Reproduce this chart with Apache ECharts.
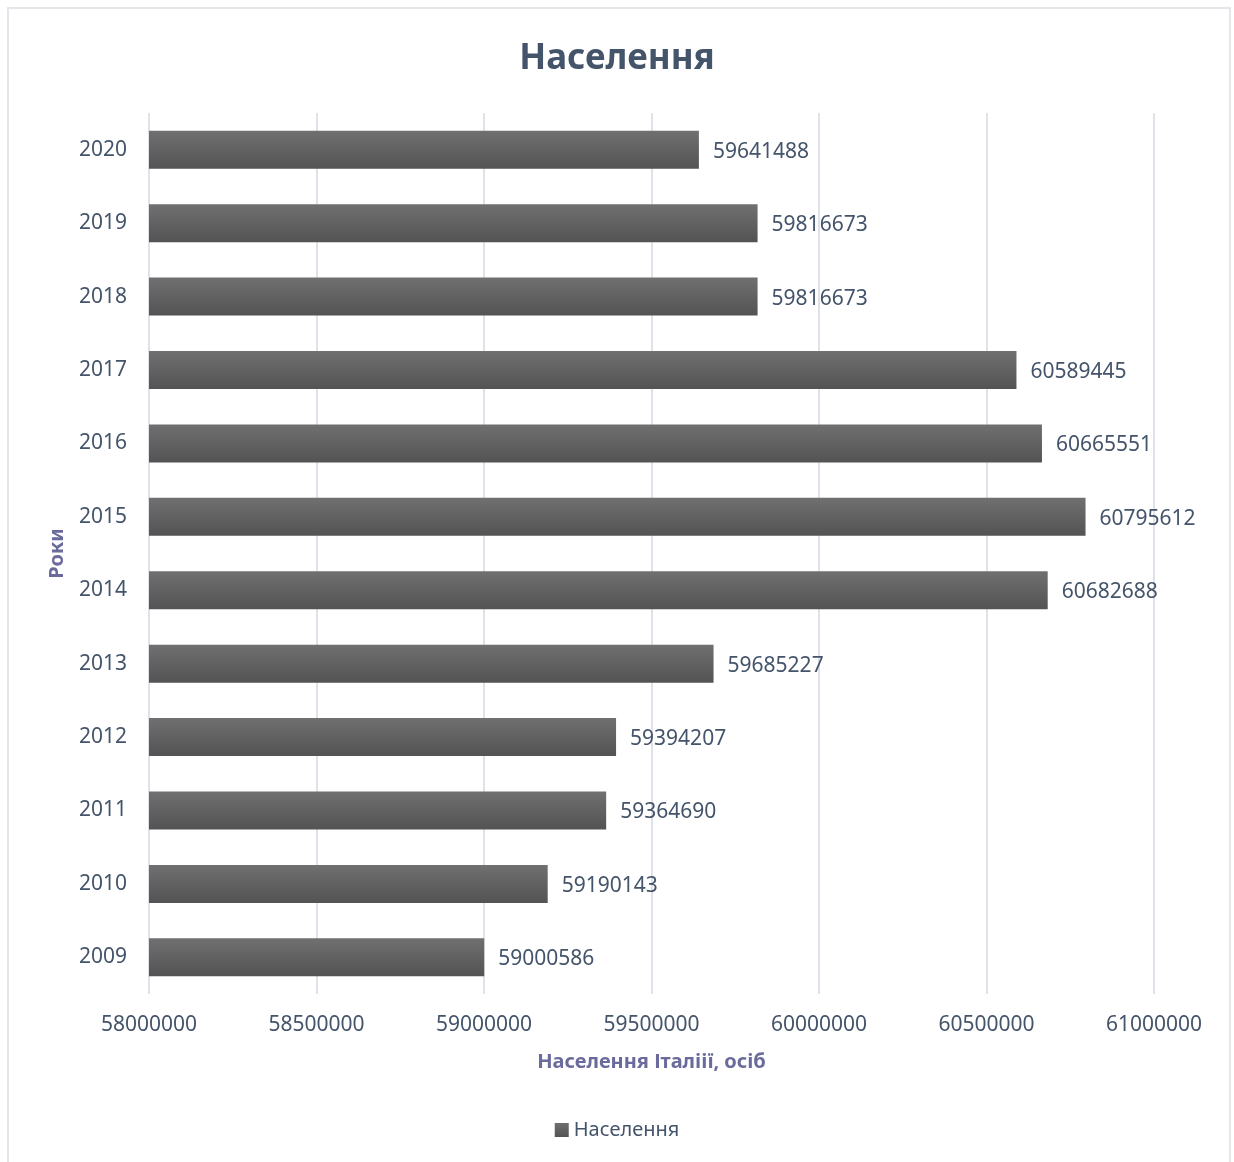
<!DOCTYPE html>
<html>
<head>
<meta charset="utf-8">
<script src="https://cdn.jsdelivr.net/npm/echarts@6/dist/echarts.min.js"></script>
<style>
  html, body { margin: 0; padding: 0; background: #ffffff; }
  #frame { position: absolute; left: 7px; top: 7px; width: 1224px; height: 1160px; border: 2px solid #e3e6ea; border-bottom: none; box-sizing: border-box; }
  #chart { position: absolute; left: 0; top: 0; width: 1234px; height: 1162px; }
</style>
</head>
<body>
<div id="frame"></div>
<div id="chart"></div>
<script>
// Population of Italy by year
const years = ['2009', '2010', '2011', '2012', '2013', '2014', '2015', '2016', '2017', '2018', '2019', '2020'];
const population = [59000586, 59190143, 59364690, 59394207, 59685227, 60682688, 60795612, 60665551, 60589445, 59816673, 59816673, 59641488];
const xTicks = [58000000, 58500000, 59000000, 59500000, 60000000, 60500000, 61000000];

const textColor = '#44546a';
const axisNameColor = '#6a6a9c';
const font = '"Noto Sans", "Open Sans", sans-serif';

const barFill = new echarts.graphic.LinearGradient(0, 0, 0, 1, [
  { offset: 0, color: '#707070' },
  { offset: 1, color: '#535353' }
]);

const chart = echarts.init(document.getElementById('chart'), null, { renderer: 'canvas' });
chart.setOption({
  backgroundColor: 'transparent',
  animation: false,
  textStyle: { fontFamily: font },
  title: {
    text: 'Населення',
    left: 'center',
    top: 37,
    textStyle: { fontFamily: font, fontSize: 35, fontWeight: 'bold', color: textColor }
  },
  legend: {
    bottom: 17,
    left: 'center',
    itemWidth: 14,
    itemHeight: 14,
    itemGap: 5,
    icon: 'rect',
    textStyle: { fontFamily: font, fontSize: 20, color: textColor },
    data: [{ name: 'Населення', itemStyle: { color: barFill } }]
  },
  grid: { left: 149, right: 80, top: 113, bottom: 168, containLabel: false },
  xAxis: {
    type: 'value',
    min: xTicks[0],
    max: xTicks[xTicks.length - 1],
    interval: xTicks[1] - xTicks[0],
    name: 'Населення Італіії, осіб',
    nameLocation: 'middle',
    nameGap: 58,
    nameTextStyle: { fontFamily: font, fontSize: 20, fontWeight: 'bold', color: axisNameColor },
    axisLine: { show: false },
    axisTick: { show: false },
    axisLabel: { fontFamily: font, fontSize: 21, color: textColor, margin: 21, formatter: v => String(v) },
    splitLine: { show: true, lineStyle: { color: '#dfe2e8', width: 2 } }
  },
  yAxis: {
    type: 'category',
    data: years,
    name: 'Роки',
    nameLocation: 'middle',
    nameGap: 82,
    nameRotate: 90,
    nameTextStyle: { fontFamily: font, fontSize: 20, fontWeight: 'bold', color: axisNameColor },
    axisLine: { show: false },
    axisTick: { show: false },
    axisLabel: { fontFamily: font, fontSize: 21, color: textColor, margin: 22, padding: [3, 0, 0, 0] },
    splitLine: { show: false }
  },
  series: [{
    name: 'Населення',
    type: 'bar',
    data: population,
    barWidth: 38,
    itemStyle: { color: barFill },
    label: {
      show: true,
      position: 'right',
      distance: 14,
      offset: [0, 2],
      fontFamily: font,
      fontSize: 21,
      color: textColor
    }
  }]
});
</script>
</body>
</html>
